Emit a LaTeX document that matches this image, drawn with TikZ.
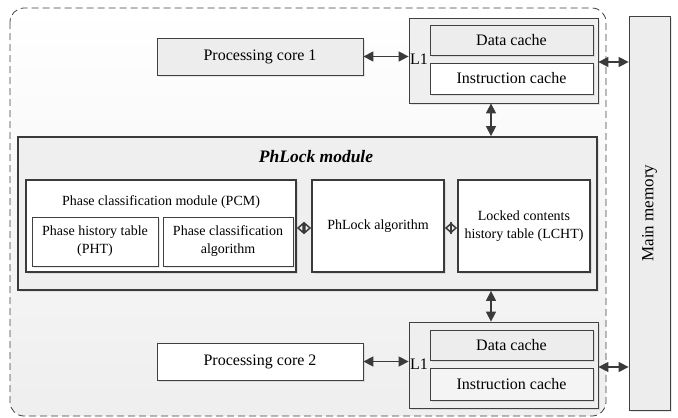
\documentclass[tikz,border=0pt]{standalone}
\usepackage{fontspec}
\setmainfont{Liberation Serif}
\usetikzlibrary{arrows.meta, positioning, shadows}
\definecolor{boxline}{HTML}{404040}
\definecolor{boxgray}{HTML}{EDEDED}
\definecolor{modgray}{HTML}{EFEFEF}
\definecolor{arrowgray}{HTML}{3A3A3A}

\begin{document}
\begin{tikzpicture}[x=1pt, y=-1pt, font=\fontsize{16}{19}\selectfont,
  blk/.style={draw=boxline, line width=0.8pt, align=center, inner sep=1pt,
    drop shadow={opacity=0.18, shadow xshift=1.5pt, shadow yshift=-1.5pt}},
  thickblk/.style={blk, line width=1.8pt, draw=arrowgray},
  modtext/.style={font=\fontsize{14}{18}\selectfont},
  link/.style={{Triangle[length=10pt,width=10pt]}-{Triangle[length=10pt,width=10pt]}, arrowgray, line width=1.5pt},
  openlink/.style={{Triangle[open,length=7pt,width=12pt]}-{Triangle[open,length=7pt,width=12pt]}, arrowgray, line width=1.5pt}]
  \useasboundingbox (0,0) rectangle (678,418);
  % chip boundary
  \draw[boxline, dash pattern=on 7pt off 4pt, line width=0.8pt, rounded corners=14pt,
    top color=white, bottom color=gray!13] (10,8) rectangle (606,416);
  % cores and L1 caches
  \node[blk, fill=boxgray, minimum width=206pt, minimum height=37pt] (core1) at (260,56.5) {Processing core 1};
  \node[blk, fill=white, minimum width=206pt, minimum height=37pt] (core2) at (260,361.5) {Processing core 2};
  \node[blk, fill=modgray, minimum width=189pt, minimum height=85pt] (l1a) at (503.5,60.5) {};
  \node[blk, fill=boxgray, minimum width=163pt, minimum height=30pt] (dca) at (511.5,40) {Data cache};
  \node[blk, fill=white, minimum width=163pt, minimum height=31pt] (ica) at (511.5,78.5) {Instruction cache};
  \node[anchor=west, inner sep=0pt] (l1alab) at (410,59) {L1};
  \node[blk, fill=modgray, minimum width=189pt, minimum height=86pt] (l1b) at (503.5,365) {};
  \node[blk, fill=boxgray, minimum width=163pt, minimum height=30pt] (dcb) at (511.5,345) {Data cache};
  \node[blk, fill=boxgray!60, minimum width=163pt, minimum height=32pt] (icb) at (511.5,384) {Instruction cache};
  \node[anchor=west, inner sep=0pt] (l1blab) at (410,364) {L1};
  % main memory
  \node[blk, fill=boxgray, minimum width=41pt, minimum height=394pt] (mem) at (649.5,213) {};
  \node[rotate=90, font=\fontsize{17}{20}\selectfont] (memlab) at (mem.center) {Main memory};
  % PhLock module
  \node[thickblk, fill=modgray, minimum width=579pt, minimum height=153pt] (phl) at (307.5,213.5) {};
  \node[font=\fontsize{17.5}{20}\selectfont\bfseries\itshape] (phltitle) at (316,157) {PhLock module};
  \node[thickblk, fill=white, minimum width=270pt, minimum height=92pt] (pcm) at (161,226) {};
  \node[modtext] (pcmtitle) at (161,202) {Phase classification module (PCM)};
  \node[blk, modtext, fill=white, minimum width=126pt, minimum height=49pt] (pht) at (95,241.5) {Phase history table\\(PHT)};
  \node[blk, modtext, fill=white, minimum width=130pt, minimum height=49pt] (pca) at (228,241.5) {Phase classification\\algorithm};
  \node[thickblk, modtext, fill=white, minimum width=132pt, minimum height=92pt] (alg) at (378,226) {PhLock algorithm};
  \node[thickblk, modtext, fill=white, minimum width=132pt, minimum height=92pt] (lcht) at (524,226) {Locked contents\\history table (LCHT)};
  % connectors
  \draw[link] (core1.east) -- (core1.east -| l1a.west);
  \draw[link] (core2.east) -- (core2.east -| l1b.west);
  \draw[link] ([yshift=-1.5pt]l1a.east) -- ([yshift=-1.5pt]l1a.east -| mem.west);
  \draw[link] ([yshift=-2pt]l1b.east) -- ([yshift=-2pt]l1b.east -| mem.west);
  \draw[link] ([xshift=-12.5pt]l1a.south) -- ([xshift=-12.5pt]l1a.south |- phl.north);
  \draw[link] ([xshift=-12.5pt]phl.south -| l1b.south) -- ([xshift=-12.5pt]l1b.north);
  \draw[openlink] ([yshift=-2pt]pcm.east) -- ([yshift=-2pt]alg.west);
  \draw[openlink] ([yshift=-2pt]alg.east) -- ([yshift=-2pt]lcht.west);
\end{tikzpicture}
\end{document}
